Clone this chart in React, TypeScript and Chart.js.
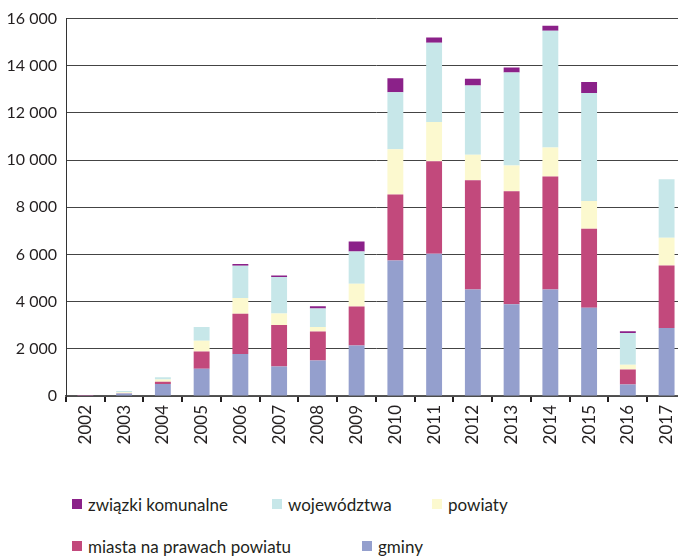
import React, { useEffect, useRef } from "react";
import { Chart, registerables } from "chart.js";

Chart.register(...registerables);

const years = ["2002", "2003", "2004", "2005", "2006", "2007", "2008", "2009", "2010", "2011", "2012", "2013", "2014", "2015", "2016", "2017"];
const gminy = [10, 110, 510, 1150, 1780, 1250, 1510, 2140, 5740, 6030, 4520, 3890, 4520, 3740, 490, 2880];
const miasta = [20, 10, 90, 740, 1710, 1760, 1220, 1650, 2800, 3920, 4630, 4790, 4790, 3350, 630, 2650];
const powiaty = [0, 40, 100, 450, 660, 490, 200, 970, 1920, 1670, 1080, 1090, 1220, 1180, 210, 1180];
const wojewodztwa = [0, 50, 100, 590, 1370, 1540, 780, 1370, 2420, 3360, 2930, 3950, 4960, 4580, 1340, 2480];
const zwiazki = [0, 0, 0, 0, 80, 70, 100, 420, 590, 220, 290, 210, 210, 460, 80, 0];

const yTicks = [0, 2000, 4000, 6000, 8000, 10000, 12000, 14000, 16000];

const seriesNames = ["gminy", "miasta na prawach powiatu", "powiaty", "województwa", "związki komunalne"];
const seriesData = [gminy, miasta, powiaty, wojewodztwa, zwiazki];
const seriesColors = ["#949fcd", "#c2497c", "#fcf9cf", "#c7e7e9", "#8b2189"];

// legend layout (index into series)
const legendItems = [
  { s: 4, x: 72, y: 504 },
  { s: 3, x: 272, y: 504 },
  { s: 2, x: 432, y: 504 },
  { s: 1, x: 72, y: 546 },
  { s: 0, x: 362, y: 546 },
];

const TEXT = "#231f20";
const FONT = "Lato, 'Open Sans', sans-serif";

const fmt = (v: number) => String(v).replace(/\B(?=(\d{3})+(?!\d))/g, " ");

export default function App() {
  const ref = useRef<HTMLCanvasElement | null>(null);
  useEffect(() => {
    if (!ref.current) return;
    const chart = new Chart(ref.current, {
      type: "bar",
      data: {
        labels: years,
        datasets: seriesNames.map((n, i) => ({
          label: n,
          data: seriesData[i],
          backgroundColor: seriesColors[i],
          borderWidth: 0,
          categoryPercentage: 1,
          barPercentage: 0.41,
        })),
      },
      options: {
        responsive: false,
        animation: false,
        devicePixelRatio: 1,
        layout: { padding: { top: 6, left: 0, right: 0, bottom: 0 } },
        plugins: { legend: { display: false }, tooltip: { enabled: false } },
        scales: {
          x: {
            stacked: true,
            afterFit: (s: any) => { s.height = 74; },
            grid: { drawOnChartArea: false, drawTicks: true, tickLength: 6, color: "#231f20", lineWidth: 2 },
            border: { display: true, color: "#555", width: 1.5 },
            ticks: {
              minRotation: 90,
              maxRotation: 90,
              padding: 3,
              color: TEXT,
              font: { family: FONT, size: 17 },
            },
          },
          y: {
            stacked: true,
            min: 0,
            max: 16000,
            afterFit: (s: any) => { s.width = 66; },
            afterBuildTicks: (s: any) => { s.ticks = yTicks.map((v) => ({ value: v })); },
            grid: { color: "#444", lineWidth: 1, drawTicks: false },
            border: { display: true, color: "#333", width: 1 },
            ticks: {
              padding: 9,
              color: TEXT,
              font: { family: FONT, size: 16 },
              callback: (v: any) => fmt(Number(v)),
            },
          },
        },
      },
    });
    return () => chart.destroy();
  }, []);

  return (
    <div style={{ position: "absolute", left: 0, top: 0, width: 678, height: 556, overflow: "hidden", background: "#fff", fontFamily: FONT }}>
      <canvas ref={ref} width={690} height={470} style={{ position: "absolute", left: 0, top: 0, width: 690, height: 470 }} />
      {legendItems.map((it, k) => (
        <div key={k} style={{ position: "absolute", left: it.x, top: it.y - 12, height: 24, display: "flex", alignItems: "center", whiteSpace: "nowrap", color: TEXT, fontSize: 17 }}>
          <span style={{ display: "inline-block", width: 10, height: 10, background: seriesColors[it.s], marginRight: 6 }} />
          <span>{seriesNames[it.s]}</span>
        </div>
      ))}
    </div>
  );
}
